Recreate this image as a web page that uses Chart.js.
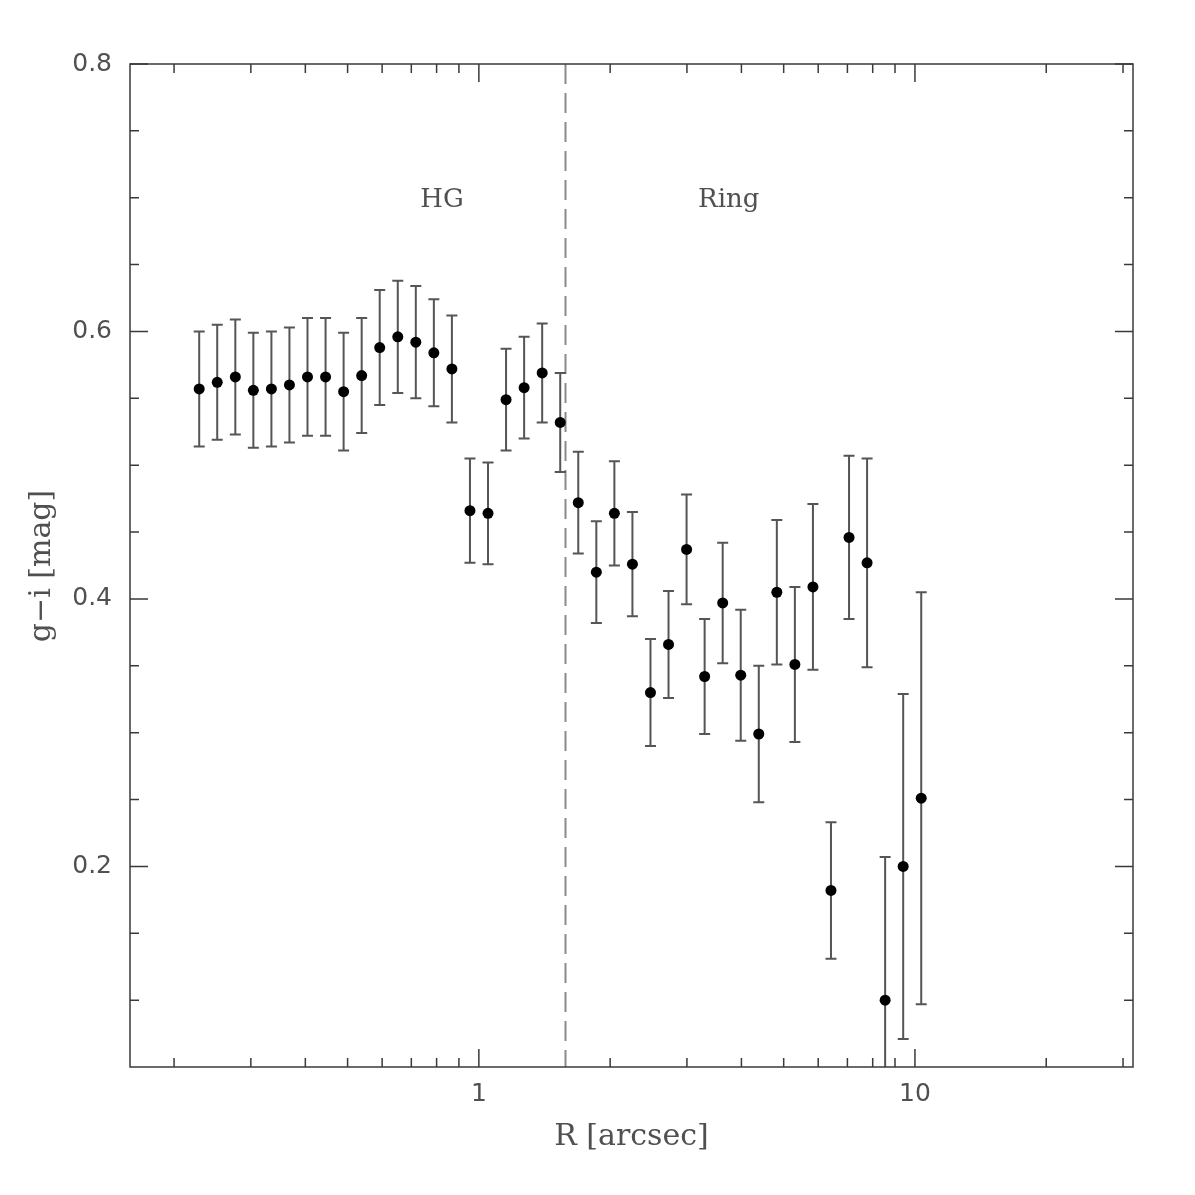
<!DOCTYPE html>
<html>
<head>
<meta charset="utf-8">
<title>g-i colour profile</title>
<script src="https://cdn.jsdelivr.net/npm/chart.js@4.4.1/dist/chart.umd.min.js"></script>
<style>
  html, body { margin: 0; padding: 0; background: #fff; }
  canvas { display: block; }
</style>
</head>
<body>
<canvas id="colorProfile" width="1195" height="1195"></canvas>
<script>
// radius of each annulus [arcsec]
const radius = [0.2284, 0.2512, 0.2764, 0.3040, 0.3344, 0.3678, 0.4046, 0.4451, 0.4896, 0.5386,
                0.5924, 0.6517, 0.7168, 0.7885, 0.8673, 0.9541, 1.0495, 1.1544, 1.2699, 1.3969,
                1.5366, 1.6902, 1.8593, 2.0452, 2.2497, 2.4747, 2.7221, 2.9943, 3.2938, 3.6231,
                3.9854, 4.3840, 4.8224, 5.3046, 5.8351, 6.4186, 7.0605, 7.7665, 8.5431, 9.3975,
                10.337];
// g-i colour [mag]
const gi = [0.557, 0.562, 0.566, 0.556, 0.557, 0.560, 0.566, 0.566, 0.555, 0.567,
            0.588, 0.596, 0.592, 0.584, 0.572, 0.466, 0.464, 0.549, 0.558, 0.569,
            0.532, 0.472, 0.420, 0.464, 0.426, 0.330, 0.366, 0.437, 0.342, 0.397,
            0.343, 0.299, 0.405, 0.351, 0.409, 0.182, 0.446, 0.427, 0.100, 0.200,
            0.251];
// symmetric error on g-i
const giErr = [0.043, 0.043, 0.043, 0.043, 0.043, 0.043, 0.044, 0.044, 0.044, 0.043,
               0.043, 0.042, 0.042, 0.040, 0.040, 0.039, 0.038, 0.038, 0.038, 0.037,
               0.037, 0.038, 0.038, 0.039, 0.039, 0.040, 0.040, 0.041, 0.043, 0.045,
               0.049, 0.051, 0.054, 0.058, 0.062, 0.051, 0.061, 0.078, 0.107, 0.129,
               0.154];

const xMajorTicks = [1, 10];
const xMinorTicks = [0.2, 0.3, 0.4, 0.5, 0.6, 0.7, 0.8, 0.9, 2, 3, 4, 5, 6, 7, 8, 9, 20, 30];
const yMajorTicks = [0.2, 0.4, 0.6, 0.8];
const yMinorTicks = [0.1, 0.15, 0.25, 0.3, 0.35, 0.45, 0.5, 0.55, 0.65, 0.7, 0.75];

const boundaryR = 1.58;   // HG / Ring boundary
const regionLabels = [
    { text: 'HG', r: 0.823, y: 0.693 },
    { text: 'Ring', r: 3.74, y: 0.693 }
];

document.addEventListener('DOMContentLoaded', () => {
    const ctx = document.getElementById('colorProfile').getContext('2d');

    const frameColor = '#3a3a3a';
    const textColor = '#505050';
    const serif = '"DejaVu Serif", "Liberation Serif", serif';

    const profilePlot = {
        id: 'profilePlot',
        beforeDatasetsDraw(chart) {
            const {ctx, chartArea: area, scales: {x, y}} = chart;
            ctx.save();
            ctx.beginPath();
            ctx.rect(area.left, area.top, area.right - area.left, area.bottom - area.top);
            ctx.clip();

            // boundary between host galaxy and ring
            const bx = x.getPixelForValue(boundaryR);
            ctx.strokeStyle = '#8a8a8a';
            ctx.lineWidth = 2;
            ctx.setLineDash([20, 9]);
            ctx.beginPath();
            ctx.moveTo(bx, area.top);
            ctx.lineTo(bx, area.bottom);
            ctx.stroke();
            ctx.setLineDash([]);

            // error bars
            ctx.strokeStyle = '#555';
            ctx.lineWidth = 2;
            radius.forEach((r, i) => {
                const px = x.getPixelForValue(r);
                const top = y.getPixelForValue(gi[i] + giErr[i]);
                const bot = y.getPixelForValue(gi[i] - giErr[i]);
                ctx.beginPath();
                ctx.moveTo(px, top);
                ctx.lineTo(px, bot);
                ctx.moveTo(px - 5.5, top);
                ctx.lineTo(px + 5.5, top);
                ctx.moveTo(px - 5.5, bot);
                ctx.lineTo(px + 5.5, bot);
                ctx.stroke();
            });
            ctx.restore();
        },
        afterDraw(chart) {
            const {ctx, chartArea: area, scales: {x, y}} = chart;
            ctx.save();
            ctx.strokeStyle = frameColor;
            ctx.lineWidth = 1.5;
            ctx.strokeRect(area.left, area.top, area.right - area.left, area.bottom - area.top);

            const xTick = (v, len) => {
                const px = x.getPixelForValue(v);
                ctx.moveTo(px, area.bottom); ctx.lineTo(px, area.bottom - len);
                ctx.moveTo(px, area.top); ctx.lineTo(px, area.top + len);
            };
            const yTick = (v, len) => {
                const py = y.getPixelForValue(v);
                ctx.moveTo(area.left, py); ctx.lineTo(area.left + len, py);
                ctx.moveTo(area.right, py); ctx.lineTo(area.right - len, py);
            };
            ctx.beginPath();
            xMajorTicks.forEach(v => xTick(v, 18));
            xMinorTicks.forEach(v => xTick(v, 9));
            yMajorTicks.forEach(v => yTick(v, 18));
            yMinorTicks.forEach(v => yTick(v, 9));
            ctx.stroke();

            ctx.fillStyle = textColor;
            ctx.font = '26px ' + serif;
            ctx.textAlign = 'center';
            ctx.textBaseline = 'alphabetic';
            regionLabels.forEach(l => {
                ctx.fillText(l.text, x.getPixelForValue(l.r), y.getPixelForValue(l.y));
            });

            ctx.font = '30px ' + serif;
            ctx.textBaseline = 'middle';
            ctx.fillText('R [arcsec]', (area.left + area.right) / 2, 1137);

            ctx.translate(42, 566);
            ctx.rotate(-Math.PI / 2);
            ctx.fillText('g\u2212i [mag]', 0, 0);
            ctx.restore();
        }
    };

    new Chart(ctx, {
        type: 'scatter',
        data: {
            datasets: [{
                label: 'g-i',
                data: radius.map((r, i) => ({x: r, y: gi[i]})),
                backgroundColor: '#000',
                borderWidth: 0,
                pointRadius: 5.5,
                pointHoverRadius: 5.5
            }]
        },
        options: {
            responsive: false,
            animation: false,
            layout: {
                padding: {left: 0, top: 64, right: 62, bottom: 0}
            },
            scales: {
                x: {
                    type: 'logarithmic',
                    min: Math.pow(10, -0.8),
                    max: Math.pow(10, 1.5),
                    afterBuildTicks: scale => {
                        scale.ticks = xMajorTicks.map(v => ({value: v}));
                    },
                    afterFit: scale => { scale.height = 128; },
                    grid: {display: false, drawTicks: false},
                    border: {display: false},
                    ticks: {
                        autoSkip: false,
                        maxRotation: 0,
                        padding: 12,
                        color: textColor,
                        font: {family: '"DejaVu Sans", sans-serif', size: 25},
                        callback: v => String(v)
                    }
                },
                y: {
                    type: 'linear',
                    min: 0.05,
                    max: 0.8,
                    afterBuildTicks: scale => {
                        scale.ticks = yMajorTicks.map(v => ({value: v}));
                    },
                    afterFit: scale => { scale.width = 130; },
                    grid: {display: false, drawTicks: false},
                    border: {display: false},
                    ticks: {
                        autoSkip: false,
                        padding: 18,
                        color: textColor,
                        font: {family: '"DejaVu Sans", sans-serif', size: 25},
                        callback: v => v.toFixed(1)
                    }
                }
            },
            plugins: {
                legend: {display: false},
                tooltip: {enabled: false}
            }
        },
        plugins: [profilePlot]
    });
});
</script>
</body>
</html>
